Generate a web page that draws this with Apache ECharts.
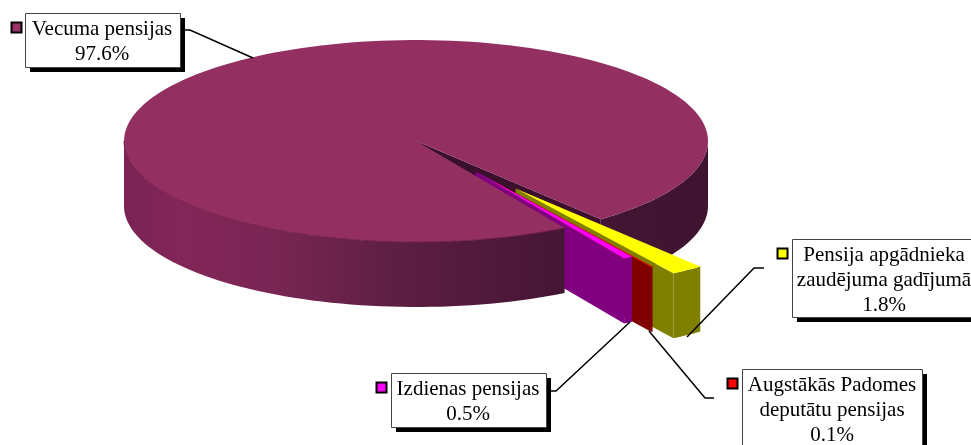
<!doctype html>
<html lang="lv">
<head>
    <meta charset="UTF-8">
    <title>Pensijas</title>
    <style>
        html, body {margin: 0; padding: 0; background: #fff;}
        #main {width: 971px; height: 445px;}
    </style>
    <script src="https://cdn.jsdelivr.net/npm/echarts@6/dist/echarts.min.js"></script>
</head>
<body>
<div id="main"></div>
<script type="text/javascript">
    // dati
    var categories = ['Vecuma pensijas', 'Pensija apgādnieka\nzaudējuma gadījumā', 'Augstākās Padomes\ndeputātu pensijas', 'Izdienas pensijas'];
    var values = [97.6, 1.8, 0.1, 0.5];

    // krāsas: virsma, atslēga un sāni
    var topColors = ['#942f62', '#ffff00', '#ff0000', '#ff00ff'];
    var keyColors = ['#993366', '#ffff00', '#ff0000', '#ff00ff'];
    var wallColors = ['#4a1a3a', '#808000', '#800000', '#800080'];

    // pīrāga ģeometrija
    var cx = 416, cy = 141, rx = 292, ry = 101, depth = 65;
    var firstAngle = 59.4;              // grādi pulksteņrādītāja virzienā no labās puses
    var explode = [0, 0.58, 0.5, 0.39]; // cik tālu daļa izvirzīta, rādiusa daļās
    var nudge = [0, 0, -2, -3];         // neliela korekcija uz augšu, pikseļos

    // uzraksti
    var boxes = [
        {x: 25, y: 13, w: 155, h: 54, textX: 102, keyX: 11, keyY: 22, line: [[253, 58], [190, 30], [184, 30]]},
        {x: 792, y: 239, w: 190, h: 78, textX: 884, keyX: 777, keyY: 248, line: [[687, 337], [754, 268], [764, 268]]},
        {x: 742, y: 369, w: 180, h: 90, textX: 832, keyX: 727, keyY: 378, line: [[649, 331], [705, 398], [714, 398]]},
        {x: 391, y: 373, w: 155, h: 54, textX: 468, keyX: 376, keyY: 382, line: [[630, 322], [556, 391], [551, 391]]}
    ];

    var myChart = echarts.init(document.getElementById('main'), null, {renderer: 'canvas'});

    // leņķi no vērtībām: pirmā daļa sākas pie firstAngle, pārējās seko tai
    function sliceAngles() {
        var total = values.reduce(function (a, b) { return a + b; }, 0);
        var res = [], a = firstAngle;
        values.forEach(function (v) {
            var sweep = v / total * 360;
            res.push([a, a + sweep]);
            a += sweep;
        });
        return res;
    }

    // punkts uz elipses; mid ir daļas vidējais leņķis, pa kuru to izvirza
    function pt(deg, r, drop, i, mid) {
        var t = deg * Math.PI / 180, m = mid * Math.PI / 180;
        return [
            cx + rx * (r * Math.cos(t) + explode[i] * Math.cos(m)),
            cy + ry * (r * Math.sin(t) + explode[i] * Math.sin(m)) + drop + nudge[i]
        ];
    }

    function arc(a0, a1, drop, i, mid) {
        var pts = [], n = Math.max(2, Math.ceil(Math.abs(a1 - a0) / 2));
        for (var k = 0; k <= n; k++) {
            pts.push(pt(a0 + (a1 - a0) * k / n, 1, drop, i, mid));
        }
        return pts;
    }

    function poly(points, fill) {
        return {type: 'polygon', shape: {points: points}, style: {fill: fill}, silent: true};
    }

    var rimFill = {
        type: 'linear', x: 124, y: 0, x2: 708, y2: 0, global: true,
        colorStops: [
            {offset: 0, color: '#7a2354'},
            {offset: 0.1, color: '#832558'},
            {offset: 0.25, color: '#7a2654'},
            {offset: 0.45, color: '#5f1f44'},
            {offset: 0.75, color: '#451535'},
            {offset: 1, color: '#3f1430'}
        ]
    };

    // zīmēšanas secība: lielās daļas aizmugure, mazās daļas, lielās daļas priekša
    var paintOrder = [[0, 0], [1, 1], [2, 1], [3, 1], [0, 2]];

    function renderSlice(params, api) {
        var i = api.value(0), part = api.value(1);
        var ang = sliceAngles()[i];
        var a0 = ang[0], a1 = ang[1], mid = (a0 + a1) / 2;
        var kids = [];
        if (i === 0) {
            var end = a1 - 360; // labā griezuma leņķis
            if (part === 0) {
                kids.push(poly(arc(0, end, 0, 0, mid).concat(arc(end, 0, depth, 0, mid)), rimFill));
                kids.push(poly([pt(0, 0, 0, 0, mid), pt(end, 1, 0, 0, mid), pt(end, 1, depth, 0, mid), pt(0, 0, depth, 0, mid)], '#3a102c'));
            } else {
                kids.push(poly([pt(0, 0, 0, 0, mid)].concat(arc(a0, a1, 0, 0, mid)), topColors[0]));
                kids.push(poly(arc(a0, 180, 0, 0, mid).concat(arc(180, a0, depth, 0, mid)), rimFill));
                // tumšāka līnija virsmas malā
                kids.push({
                    type: 'polyline', silent: true,
                    shape: {points: arc(a0, 180, 0, 0, mid)},
                    style: {stroke: '#741f4c', lineWidth: 1, fill: null}
                });
            }
        } else {
            // ārējā mala, radiālā siena, virsma
            kids.push(poly(arc(a0, a1, 0, i, mid).concat(arc(a1, a0, depth, i, mid)), wallColors[i]));
            kids.push(poly([pt(0, 0, 0, i, mid), pt(a1, 1, 0, i, mid), pt(a1, 1, depth, i, mid), pt(0, 0, depth, i, mid)], wallColors[i]));
            kids.push(poly([pt(0, 0, 0, i, mid)].concat(arc(a0, a1, 0, i, mid)), topColors[i]));
        }
        return {type: 'group', children: kids};
    }

    // uzraksti ar ēnu, atslēgu un līniju
    var graphics = [];
    categories.forEach(function (name, i) {
        var b = boxes[i];
        graphics.push({type: 'polyline', silent: true, z: 5, shape: {points: b.line}, style: {stroke: '#000', lineWidth: 1.5, fill: null}});
        graphics.push({type: 'rect', silent: true, z: 6, shape: {x: b.x + 5, y: b.y + 5, width: b.w, height: b.h}, style: {fill: '#000'}});
        graphics.push({type: 'rect', silent: true, z: 7, shape: {x: b.x + 0.5, y: b.y + 0.5, width: b.w, height: b.h}, style: {fill: '#fff', stroke: '#444', lineWidth: 1}});
        graphics.push({type: 'rect', silent: true, z: 7, shape: {x: b.keyX + 0.5, y: b.keyY + 0.5, width: 10, height: 10}, style: {fill: keyColors[i], stroke: '#000', lineWidth: 2}});
        graphics.push({
            type: 'text', silent: true, z: 8,
            x: b.textX, y: b.y + 4,
            style: {
                text: name + '\n' + values[i].toFixed(1) + '%',
                fill: '#000',
                font: '21px "Liberation Serif"',
                lineHeight: 25,
                align: 'center',
                verticalAlign: 'top'
            }
        });
    });

    var option = {
        backgroundColor: '#fff',
        animation: false,
        graphic: graphics,
        series: [{
            type: 'custom',
            coordinateSystem: 'none',
            silent: true,
            renderItem: renderSlice,
            data: paintOrder
        }]
    };

    myChart.setOption(option);
</script>
</body>
</html>
